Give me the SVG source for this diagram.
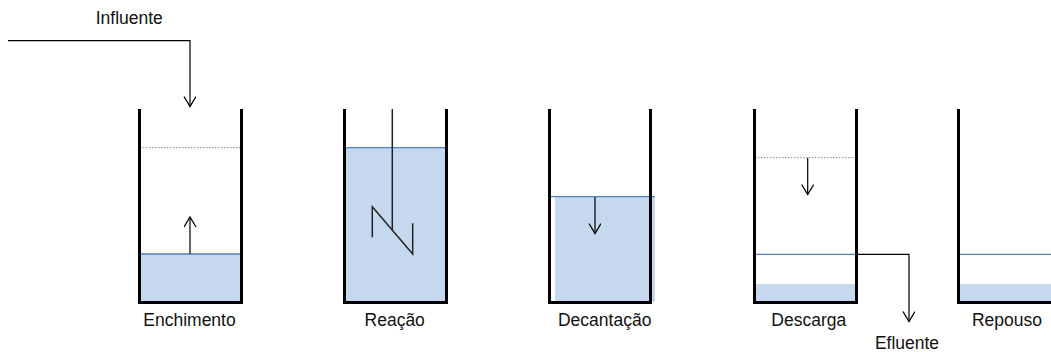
<svg xmlns="http://www.w3.org/2000/svg" width="1051" height="352" viewBox="0 0 1051 352">
  <style>
    .wall { fill: none; stroke: #000; stroke-width: 3; stroke-linejoin: miter; }
    .water { fill: #c6d8ee; stroke: none; }
    .surface { stroke: #4f81bd; stroke-width: 1.3; fill: none; }
    .level { stroke: #888; stroke-width: 1; stroke-dasharray: 1.5 1.5; fill: none; }
    .flow { stroke: #000; stroke-width: 1.2; fill: none; }
    .mixer { stroke: #222; stroke-width: 1.5; fill: none; }
    .label { font-family: "Liberation Sans", Arial, sans-serif; font-size: 17.5px; fill: #111; text-anchor: middle; }
  </style>
  <defs>
    <marker id="open" markerWidth="14" markerHeight="14" refX="11" refY="6" orient="auto" markerUnits="userSpaceOnUse">
      <path d="M1,0 L11,6 L1,12" fill="none" stroke="#000" stroke-width="1.3"/>
    </marker>
  </defs>

  <rect width="1051" height="352" fill="#fff"/>

  <!-- Fill stage -->
  <g id="enchimento">
    <rect class="water" x="140" y="254" width="101" height="48"/>
    <line class="surface" x1="140" y1="254" x2="241" y2="254"/>
    <line class="level" x1="140" y1="147.7" x2="241" y2="147.7"/>
    <polyline class="wall" points="139.5,109 139.5,302.5 241.5,302.5 241.5,109"/>
    <text class="label" x="189.5" y="326">Enchimento</text>
  </g>

  <!-- Reaction stage -->
  <g id="reacao">
    <rect class="water" x="345" y="147.7" width="101" height="154"/>
    <line class="surface" x1="345" y1="147.7" x2="446" y2="147.7"/>
    <polyline class="wall" points="344.5,109 344.5,302.5 446.5,302.5 446.5,109"/>
    <line class="mixer" x1="392.3" y1="109" x2="392.3" y2="230"/>
    <polyline class="mixer" points="372.3,237.3 372.3,206.7 412.7,254 412.7,223.3"/>
    <text class="label" x="394.7" y="326">Reação</text>
  </g>

  <!-- Settling stage -->
  <g id="decantacao">
    <rect class="water" x="555" y="196.7" width="100" height="105"/>
    <line class="surface" x1="550" y1="196.7" x2="655" y2="196.7"/>
    <polyline class="wall" points="549.5,109 549.5,302.5 650.5,302.5 650.5,109"/>
    <text class="label" x="604.7" y="326">Decantação</text>
  </g>

  <!-- Draw stage -->
  <g id="descarga">
    <rect class="water" x="756" y="284" width="100" height="18"/>
    <line class="level" x1="755" y1="157.7" x2="856" y2="157.7"/>
    <line class="surface" x1="755" y1="254.3" x2="856" y2="254.3"/>
    <polyline class="wall" points="754.5,109 754.5,302.5 856.5,302.5 856.5,109"/>
    <text class="label" x="808.8" y="326">Descarga</text>
  </g>

  <!-- Idle stage -->
  <g id="repouso">
    <rect class="water" x="960" y="284" width="91" height="18"/>
    <line class="surface" x1="959" y1="254.3" x2="1051" y2="254.3"/>
    <polyline class="wall" points="958.5,109 958.5,302.5 1053,302.5"/>
    <text class="label" x="1007" y="326">Repouso</text>
  </g>

  <!-- Flow labels -->
  <g id="influente">
    <text class="label" x="129.3" y="23.5">Influente</text>
  </g>
  <g id="efluente">
    <text class="label" x="907" y="348.5">Efluente</text>
  </g>

  <!-- Connectors and level arrows -->
  <g id="connectors">
    <polyline class="flow" points="8,40.7 190,40.7 190,106.5" marker-end="url(#open)"/>
    <line class="flow" x1="190" y1="254" x2="190" y2="217" marker-end="url(#open)"/>
    <line class="flow" x1="595" y1="197" x2="595" y2="233.5" marker-end="url(#open)"/>
    <line class="flow" x1="807.7" y1="158" x2="807.7" y2="194.5" marker-end="url(#open)"/>
    <polyline class="flow" points="856,254.3 909,254.3 909,321.5" marker-end="url(#open)"/>
  </g>
</svg>
